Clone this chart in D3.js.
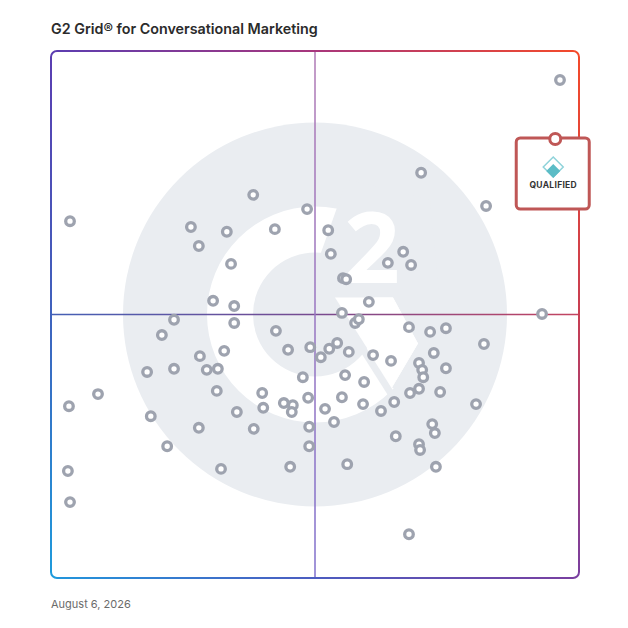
<!DOCTYPE html>
<html>
<head>
<meta charset="utf-8">
<script src="https://d3js.org/d3.v7.min.js"></script>
<style>
    body { margin: 0; background: #fff; }
    text { font-family: Inter, "Noto Sans", sans-serif; }
</style>
</head>
<body>
<svg id="chart" width="628" height="628"></svg>
<script>
var title = 'G2 Grid\u00ae for Conversational Marketing';
var dateLabel = 'August 6, 2026';

// Satisfaction (x) and market presence (y) scores, 0-100.
var satisfaction = [
    96.4, 70.1, 82.4, 38.3, 48.5, 3.6, 26.5, 33.3, 42.4, 52.5,
    28.0, 53.0, 34.1, 66.7, 63.8, 68.2, 55.3, 55.9, 30.7, 34.7,
    60.2, 93.0, 55.1, 34.7, 23.3, 57.6, 58.3, 21.0, 42.6, 67.8,
    71.8, 74.8, 82.0, 49.1, 44.9, 51.1, 52.7, 54.2, 56.4, 61.0,
    64.4, 72.5, 28.2, 32.8, 18.2, 23.3, 29.5, 31.6, 47.7, 55.7,
    69.7, 70.3, 70.5, 74.8, 59.3, 31.4, 69.7, 68.0, 73.7, 40.0,
    8.9, 3.4, 18.9, 35.2, 40.2, 44.1, 45.8, 45.6, 48.7, 55.1,
    51.9, 59.1, 62.5, 65.0, 80.5, 53.6, 48.9, 28.0, 38.4, 72.2,
    72.7, 65.3, 22.0, 48.9, 69.7, 69.9, 32.2, 45.3, 56.1, 72.9,
    3.2, 3.6, 67.8
];

var marketPresence = [
    94.5, 76.9, 70.6, 72.7, 70.0, 67.7, 66.6, 65.7, 66.2, 66.0,
    63.0, 61.5, 59.6, 61.9, 59.8, 59.4, 56.9, 56.7, 52.6, 51.6,
    52.4, 50.1, 50.3, 48.4, 49.0, 48.4, 49.1, 46.1, 46.9, 47.6,
    46.7, 47.4, 44.4, 43.8, 43.3, 41.9, 43.5, 44.6, 42.9, 42.3,
    41.2, 42.7, 42.1, 43.1, 39.1, 39.7, 39.5, 39.7, 38.1, 38.5,
    40.8, 39.5, 38.1, 39.8, 37.2, 35.5, 35.9, 35.1, 35.3, 35.1,
    34.9, 32.6, 30.7, 31.5, 32.3, 33.2, 32.8, 31.5, 34.2, 34.3,
    32.1, 33.0, 31.7, 33.4, 33.0, 29.6, 28.7, 28.5, 28.3, 29.2,
    27.5, 26.9, 25.0, 25.0, 25.4, 24.3, 20.7, 21.1, 21.6, 21.1,
    20.3, 14.4, 8.3
];

var highlightName = 'QUALIFIED';
var highlightScore = [95.5, 83.3];

var svg = d3.select('#chart');
var defs = svg.append('defs');

var x = d3.scaleLinear().domain([0, 100]).range([51, 579]);
var y = d3.scaleLinear().domain([0, 100]).range([578, 51]);

var cx = x(50);
var cy = y(50);

function gradient(id, x1, y1, x2, y2, stops) {
    var g = defs.append('linearGradient')
        .attr('id', id)
        .attr('gradientUnits', 'userSpaceOnUse')
        .attr('x1', x1).attr('y1', y1)
        .attr('x2', x2).attr('y2', y2);
    stops.forEach(function (s) {
        g.append('stop').attr('offset', s[0]).attr('stop-color', s[1]);
    });
}

gradient('gTop', x(0), y(100), x(100), y(100), [[0, '#5b3db1'], [0.5, '#a8367c'], [1, '#f44a2a']]);
gradient('gRight', x(100), y(100), x(100), y(0), [[0, '#f44a2a'], [0.5, '#c83e52'], [1, '#7a3fa0']]);
gradient('gBottom', x(0), y(0), x(100), y(0), [[0, '#2196dc'], [0.5, '#4c5cc0'], [1, '#7a3fa0']]);
gradient('gLeft', x(0), y(100), x(0), y(0), [[0, '#5b3db1'], [0.5, '#3f62bd'], [1, '#1e9bdc']]);
gradient('gH', x(0), cy, x(100), cy, [[0, '#4560b5'], [0.5, '#774a90'], [1, '#c44460']]);
gradient('gV', cx, y(100), cx, y(0), [[0, '#b07ab5'], [1, '#8070cc']]);

// G2 watermark behind the grid.
var logoGray = '#eaedf1';
var logo = svg.append('g').attr('transform', 'translate(' + cx + ',' + cy + ')');

logo.append('circle').attr('r', 192).attr('fill', logoGray);

logo.append('path')
    .attr('d', d3.arc()({innerRadius: 62, outerRadius: 108, startAngle: 0, endAngle: 2 * Math.PI}))
    .attr('fill', '#fff');

// Opening of the G at the upper right.
logo.append('polygon')
    .attr('points', '32,-135 0,-45 0,-17 78,-17 103,29 77,73 110,85 125,-15 115,-115')
    .attr('fill', logoGray);

// Thin gap between ring and chevron.
logo.append('line')
    .attr('x1', 16.6).attr('y1', -14.9)
    .attr('x2', 81).attr('y2', 87)
    .attr('stroke', logoGray)
    .attr('stroke-width', 7);

logo.append('polygon')
    .attr('points', '20,-17 78,-17 103,29 77,73')
    .attr('fill', '#fff');

logo.append('text')
    .attr('x', 57)
    .attr('y', -32)
    .attr('text-anchor', 'middle')
    .style('font-family', '"Open Sans", sans-serif')
    .style('font-size', '98px')
    .style('font-weight', 700)
    .attr('fill', '#fff')
    .text('2');

// Quadrant lines.
svg.append('line')
    .attr('x1', x(0)).attr('x2', x(100))
    .attr('y1', cy).attr('y2', cy)
    .attr('stroke', 'url(#gH)')
    .attr('stroke-width', 1.5);

svg.append('line')
    .attr('x1', cx).attr('x2', cx)
    .attr('y1', y(100)).attr('y2', y(0))
    .attr('stroke', 'url(#gV)')
    .attr('stroke-width', 1.5);

// Frame: four gradient sides with rounded corners.
var r = 6;
var frame = svg.append('g').attr('fill', 'none').attr('stroke-width', 2);
frame.append('path').attr('stroke', 'url(#gTop)')
    .attr('d', 'M' + x(0) + ',' + (y(100) + r) + ' A' + r + ',' + r + ' 0 0 1 ' + (x(0) + r) + ',' + y(100) +
        ' L' + (x(100) - r) + ',' + y(100));
frame.append('path').attr('stroke', 'url(#gRight)')
    .attr('d', 'M' + (x(100) - r) + ',' + y(100) + ' A' + r + ',' + r + ' 0 0 1 ' + x(100) + ',' + (y(100) + r) +
        ' L' + x(100) + ',' + (y(0) - r));
frame.append('path').attr('stroke', 'url(#gBottom)')
    .attr('d', 'M' + x(100) + ',' + (y(0) - r) + ' A' + r + ',' + r + ' 0 0 1 ' + (x(100) - r) + ',' + y(0) +
        ' L' + (x(0) + r) + ',' + y(0));
frame.append('path').attr('stroke', 'url(#gLeft)')
    .attr('d', 'M' + (x(0) + r) + ',' + y(0) + ' A' + r + ',' + r + ' 0 0 1 ' + x(0) + ',' + (y(0) - r) +
        ' L' + x(0) + ',' + (y(100) + r));

// Product dots.
var points = satisfaction.map(function (d, i) {
    return {x: d, y: marketPresence[i]};
});

svg.append('g')
    .selectAll('circle.node')
    .data(points)
    .enter()
    .append('circle')
    .attr('class', 'node')
    .attr('cx', function (d) { return x(d.x); })
    .attr('cy', function (d) { return y(d.y); })
    .attr('r', 4.3)
    .attr('fill', '#fff')
    .attr('stroke', '#9ea3af')
    .attr('stroke-width', 3.3);

// Highlighted product card.
var hx = x(highlightScore[0]);
var hy = y(highlightScore[1]);
var card = svg.append('g');

card.append('rect')
    .attr('x', hx - 39)
    .attr('y', hy - 1)
    .attr('width', 73)
    .attr('height', 71)
    .attr('rx', 4)
    .attr('fill', '#fff')
    .attr('stroke', '#bf5756')
    .attr('stroke-width', 3);

card.append('circle')
    .attr('cx', hx)
    .attr('cy', hy)
    .attr('r', 5.5)
    .attr('fill', '#fff')
    .attr('stroke', '#bf5756')
    .attr('stroke-width', 3);

var lx = hx - 2;
var ly = hy + 28;
card.append('path')
    .attr('d', 'M' + lx + ',' + (ly - 10) + ' l10,10 l-10,10 l-10,-10 Z')
    .attr('fill', 'none')
    .attr('stroke', '#8fd3da')
    .attr('stroke-width', 1.5);
card.append('path')
    .attr('d', 'M' + lx + ',' + (ly - 3) + ' l7,7 l-7,7 l-7,-7 Z')
    .attr('fill', '#5bbcc6');

card.append('text')
    .attr('x', lx)
    .attr('y', hy + 49)
    .attr('text-anchor', 'middle')
    .style('font-size', '8.5px')
    .style('font-weight', 700)
    .style('letter-spacing', '0.3px')
    .attr('fill', '#333')
    .text(highlightName);

// Title and date.
svg.append('text')
    .attr('x', x(0))
    .attr('y', 34)
    .style('font-size', '14.3px')
    .style('font-weight', 600)
    .attr('fill', '#2b2b2b')
    .text(title);

svg.append('text')
    .attr('x', x(0))
    .attr('y', 608)
    .style('font-size', '11px')
    .attr('fill', '#6b6b6b')
    .text(dateLabel);
</script>
</body>
</html>
